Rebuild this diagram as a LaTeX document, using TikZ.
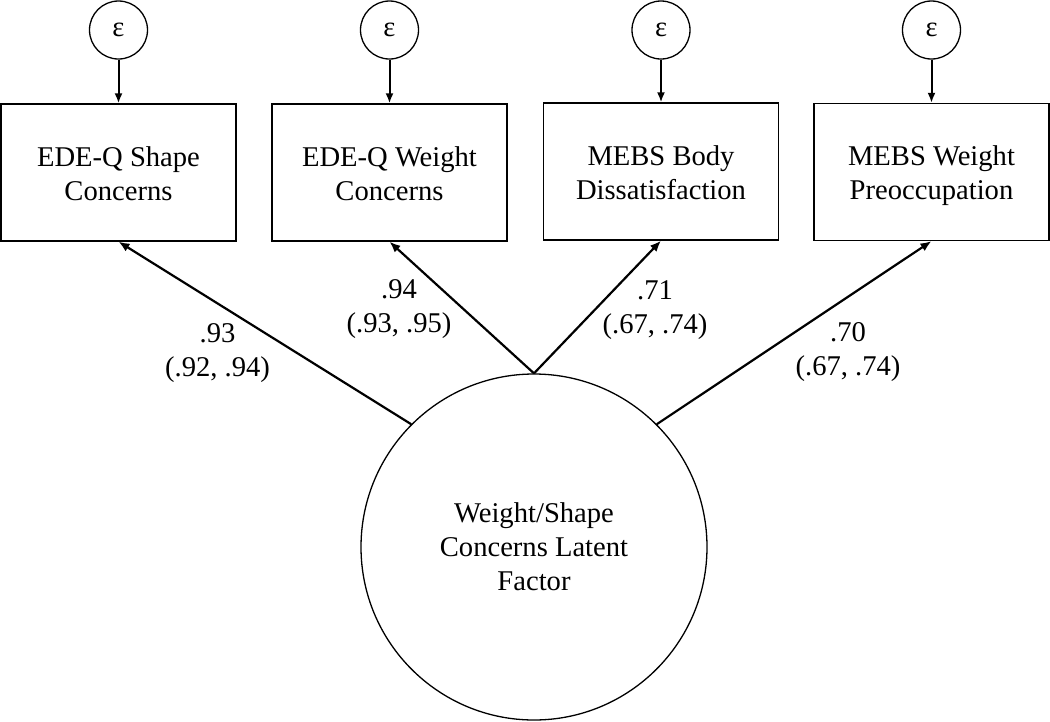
\documentclass[tikz,border=0pt]{standalone}
\usepackage{fontspec}
\setmainfont{Liberation Serif}
\usetikzlibrary{arrows.meta}
\newcommand{\topst}{\rule{0pt}{28pt}}
\newcommand{\botst}{\rule[-6.2pt]{0pt}{6.2pt}}
\begin{document}
\begin{tikzpicture}[x=1pt,y=-1pt,
  every node/.style={font=\fontsize{28.6}{34}\selectfont},
  obsbox/.style={draw,line width=1.3pt,minimum width=235pt,minimum height=137pt,inner sep=0pt,align=center},
  errc/.style={draw,circle,line width=1.3pt,minimum size=58pt,inner sep=0pt},
  latent/.style={draw,circle,line width=1.3pt,minimum size=346pt,inner sep=0pt,align=center},
  loadlab/.style={align=center,inner sep=0pt},
  arr/.style={line width=2.2pt,-{Latex[length=11pt,width=9pt]}},
  errarr/.style={line width=2pt,-{Latex[length=10pt,width=8pt]}}]
\useasboundingbox (0,0) rectangle (1050,721);
\node[obsbox] (b1) at (118.5,172.5) {\topst EDE-Q Shape\\Concerns\botst};
\node[obsbox] (b2) at (389.5,172.5) {\topst EDE-Q Weight\\Concerns\botst};
\node[obsbox] (b3) at (661,171.5) {\topst MEBS Body\\Dissatisfaction\botst};
\node[obsbox] (b4) at (931.5,172) {\topst MEBS Weight\\Preoccupation\botst};
\node[errc] (e1) at (118.5,30) {ε};
\node[errc] (e2) at (389.5,30) {ε};
\node[errc] (e3) at (661,30) {ε};
\node[errc] (e4) at (931.5,30) {ε};
\node[latent] (f) at (534,547) {Weight/Shape\\Concerns Latent\\Factor};
\draw[errarr] (e1) -- (b1);
\draw[errarr] (e2) -- (b2);
\draw[errarr] (e3) -- (b3);
\draw[errarr] (e4) -- (b4);
\draw[arr] (f.135) -- (b1.south);
\draw[arr] (f.90) -- (b2.south);
\draw[arr] (f.90) -- (b3.south);
\draw[arr] (f.45) -- (b4.south);
\node[loadlab] (l1) at (217.5,353) {.93\\(.92, .94)};
\node[loadlab] (l2) at (399,309) {.94\\(.93, .95)};
\node[loadlab] (l3) at (655,310) {.71\\(.67, .74)};
\node[loadlab] (l4) at (848,352) {.70\\(.67, .74)};
\end{tikzpicture}
\end{document}
